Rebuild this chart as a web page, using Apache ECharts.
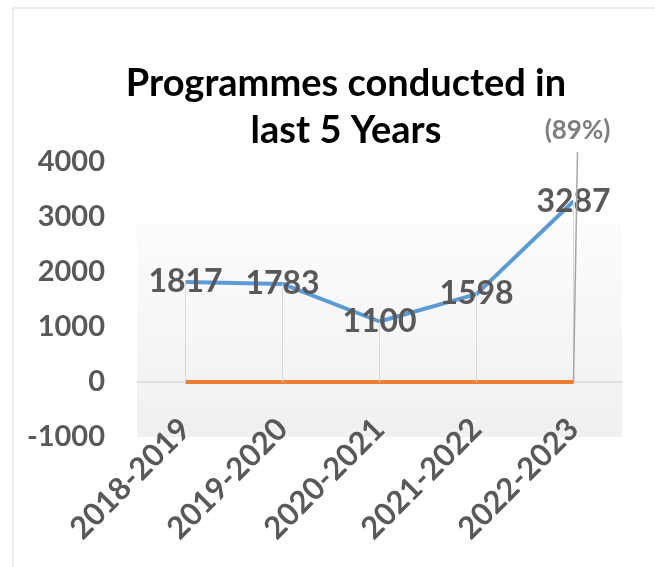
<!DOCTYPE html>
<html>
<head>
<meta charset="utf-8">
<script src="https://cdn.jsdelivr.net/npm/echarts@6/dist/echarts.min.js"></script>
<style>
  html, body { margin: 0; padding: 0; background: #fff; }
  #chart { width: 655px; height: 567px; }
</style>
</head>
<body>
<div id="chart"></div>
<script>
// 近五年培训项目数
const years = ["2018-2019", "2019-2020", "2020-2021", "2021-2022", "2022-2023"];
const programmes = [1817, 1783, 1100, 1598, 3287];
const baseline = [0, 0, 0, 0, 0];
const growthLabel = "(89%)";

const chart = echarts.init(document.getElementById("chart"));
const font = "Lato, 'Open Sans', sans-serif";

const dropLines = () => programmes.map((v, i) => [{ coord: [i, 0] }, { coord: [i, v] }]);

const option = {
  backgroundColor: "#fff",
  animation: false,
  title: {
    text: "Programmes conducted in\nlast 5 Years",
    left: 341,
    top: 55,
    textAlign: "center",
    textStyle: {
      color: "#000",
      fontFamily: font,
      fontSize: 38,
      fontWeight: "bold",
      lineHeight: 47
    }
  },
  graphic: [
    {
      type: "rect",
      shape: { x: 13, y: 8, width: 700, height: 620 },
      style: { fill: "none", stroke: "#d9d9d9", lineWidth: 1 },
      silent: true,
      z: -1
    }
  ],
  grid: {
    left: 137,
    right: 33,
    top: 162,
    bottom: 130,
    outerBoundsMode: "none",
    containLabel: false,
    show: true,
    borderWidth: 0,
    backgroundColor: {
      type: "linear", x: 0, y: 0, x2: 0, y2: 1,
      colorStops: [
        { offset: 0, color: "#ffffff" },
        { offset: 0.22, color: "#ffffff" },
        { offset: 0.222, color: "#fcfcfc" },
        { offset: 1, color: "#f0f0f0" }
      ]
    }
  },
  xAxis: {
    type: "category",
    data: years,
    boundaryGap: true,
    axisLine: { onZero: true, lineStyle: { color: "#d9d9d9", width: 1.5 } },
    axisTick: { show: false },
    splitLine: { show: false },
    axisLabel: {
      rotate: 45,
      margin: -13,
      interval: 0,
      color: "#595959",
      fontFamily: font,
      fontSize: 31,
      fontWeight: "bold"
    }
  },
  yAxis: {
    type: "value",
    min: -1000,
    max: 4000,
    interval: 1000,
    axisLine: { show: false },
    axisTick: { show: false },
    splitLine: { show: false },
    axisLabel: {
      margin: 32,
      formatter: v => String(v),
      color: "#595959",
      fontFamily: font,
      fontSize: 29,
      fontWeight: "bold"
    }
  },
  series: [
    {
      name: "Baseline",
      type: "line",
      data: baseline,
      symbol: "none",
      lineStyle: { color: "#ed7d31", width: 4 },
      z: 3
    },
    {
      name: "Programmes",
      type: "line",
      data: programmes,
      symbol: "circle",
      symbolSize: 0,
      lineStyle: { color: "#5b9bd5", width: 4 },
      itemStyle: { color: "#5b9bd5" },
      label: {
        show: true,
        position: "inside",
        color: "#595959",
        fontFamily: font,
        fontSize: 32,
        fontWeight: "bold"
      },
      markLine: {
        silent: true,
        symbol: "none",
        label: { show: false },
        lineStyle: { color: "#d9d9d9", width: 1, type: "solid" },
        data: dropLines()
      },
      z: 4
    }
  ]
};

chart.setOption(option);

// (89%) 引导线: 从最后一个点的底部向上延伸到标题下方
const last = years.length - 1;
const bottomPt = chart.convertToPixel({ seriesIndex: 1 }, [last, 0]);
const topPt = chart.convertToPixel({ seriesIndex: 1 }, [last, 4000]);
chart.setOption({
  series: [{}, {
    markLine: {
      data: dropLines().concat([[
        { x: bottomPt[0], y: bottomPt[1], lineStyle: { color: "#a6a6a6", width: 1.5 } },
        { x: topPt[0] + 4, y: topPt[1] - 10 }
      ]])
    },
    markPoint: {
      silent: true,
      symbol: "circle",
      symbolSize: 0,
      data: [{
        x: topPt[0] + 4,
        y: topPt[1] - 31,
        label: {
          show: true,
          position: "inside",
          formatter: growthLabel,
          color: "#7f7f7f",
          fontFamily: font,
          fontSize: 26,
          fontWeight: "bold"
        }
      }]
    }
  }]
});
</script>
</body>
</html>
